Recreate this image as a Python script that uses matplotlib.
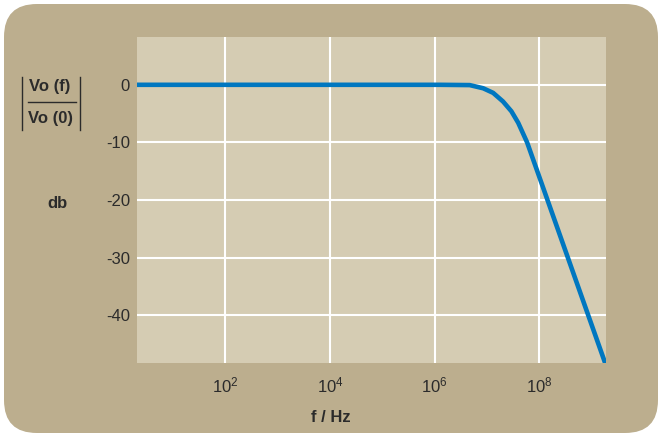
import matplotlib.pyplot as plt
from matplotlib.patches import FancyBboxPatch

plt.rcParams['font.family'] = ['Liberation Sans', 'DejaVu Sans']
plt.rcParams['mathtext.default'] = 'regular'

# Frequency response
freq_hz = [2.0, 1.26e6, 4.7e6, 8.5e6, 1.32e7, 2.04e7, 2.95e7, 3.98e7,
           5.01e7, 5.89e7, 2.0e9]
gain_db = [0, 0, -0.05, -0.6, -1.4, -2.9, -4.6, -6.6,
           -8.6, -10, -49.3]

x_ticks = [1e2, 1e4, 1e6, 1e8]
x_tick_labels = ['$10^{2}$', '$10^{4}$', '$10^{6}$', '$10^{8}$']
y_ticks = [0, -10, -20, -30, -40]
y_tick_labels = ['0', '-10', '-20', '-30', '-40']

outer_bg = '#bcae8e'
plot_bg = '#d5ccb3'
line_col = '#0077c0'
text_col = '#2b2b2b'

fig = plt.figure(figsize=(6.58, 4.34), dpi=100)
fig.patch.set_facecolor('white')

# rounded tan panel behind everything
panel = FancyBboxPatch((4 / 658, 1 / 434), 654 / 658, 429 / 434,
                       boxstyle='round,pad=0,rounding_size=0.05',
                       transform=fig.transFigure, facecolor=outer_bg,
                       edgecolor='none', mutation_aspect=658 / 434, zorder=-10)
fig.patches.append(panel)

ax = fig.add_axes([137 / 658, 1 - 363 / 434, 469 / 658, 326 / 434])
ax.set_zorder(1)
ax.set_facecolor(plot_bg)
ax.set_xscale('log')
ax.set_xlim(2.04, 1.9e9)
ax.set_ylim(-48.3, 8.3)

ax.set_xticks(x_ticks)
ax.set_xticklabels(x_tick_labels)
ax.minorticks_off()
ax.set_yticks(y_ticks)
ax.set_yticklabels(y_tick_labels)
ax.tick_params(length=0, labelsize=12, colors=text_col, pad=5)
ax.tick_params(axis='x', pad=9)
for s in ax.spines.values():
    s.set_visible(False)
ax.grid(True, color='white', linewidth=1.5)
ax.set_axisbelow(True)

ax.plot(freq_hz, gain_db, color=line_col, linewidth=3.3,
        solid_joinstyle='round', solid_capstyle='butt')

# axis labels
fig.text(331 / 658, 1 - 417 / 434, 'f / Hz', ha='center', va='center',
         fontsize=12, fontweight='bold', color=text_col)
fig.text(57 / 658, 1 - 204 / 434, 'db', ha='center', va='center',
         fontsize=12, fontweight='bold', color=text_col)
fig.text(50 / 658, 1 - 87 / 434, 'Vo (f)', ha='center', va='center',
         fontsize=12, fontweight='bold', color=text_col)
fig.text(51 / 658, 1 - 119 / 434, 'Vo (0)', ha='center', va='center',
         fontsize=12, fontweight='bold', color=text_col)
fig.add_artist(plt.Line2D([28 / 658, 76 / 658], [1 - 102 / 434, 1 - 102 / 434],
                          color=text_col, linewidth=1))
for bx in (22, 80):
    fig.add_artist(plt.Line2D([bx / 658, bx / 658], [1 - 77 / 434, 1 - 130 / 434],
                              color=text_col, linewidth=1))

fig.savefig('out.png', dpi=100, facecolor=fig.get_facecolor())
